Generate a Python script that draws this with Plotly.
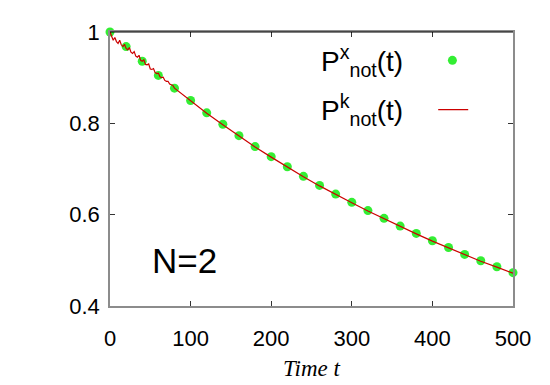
import plotly.graph_objects as go

# sampled points P^x_not(t)
t_points = [0, 20, 40, 60, 80, 100, 120, 140, 160, 180, 200, 220, 240,
            260, 280, 300, 320, 340, 360, 380, 400, 420, 440, 460, 480, 500]
p_x = [1.000, 0.968, 0.936, 0.905, 0.877, 0.850, 0.823, 0.798, 0.773,
       0.749, 0.727, 0.705, 0.684, 0.664, 0.645, 0.627, 0.609, 0.592,
       0.575, 0.559, 0.543, 0.528, 0.513, 0.499, 0.486, 0.473]

# continuous curve P^k_not(t) (wiggly at early times)
t_line = [0, 2, 4, 6, 8, 10, 12, 14, 16, 18, 20, 22, 24, 26, 28, 30, 32, 34,
          36, 38, 40, 42, 44, 46, 48, 50, 52, 54, 56, 58, 60, 62, 64, 66, 68,
          70, 72, 74, 76, 78, 80, 85, 90, 95, 100, 110, 120, 140, 160, 180,
          200, 220, 240, 260, 280, 300, 320, 340, 360, 380, 400, 420, 440,
          460, 480, 500]
p_k = [1.000, 0.990, 0.982, 0.988, 0.979, 0.975, 0.982, 0.972, 0.968, 0.973,
       0.964, 0.961, 0.966, 0.956, 0.953, 0.957, 0.947, 0.945, 0.949, 0.938,
       0.936, 0.939, 0.929, 0.928, 0.930, 0.919, 0.918, 0.920, 0.911, 0.909,
       0.910, 0.902, 0.900, 0.901, 0.894, 0.892, 0.892, 0.886, 0.884, 0.883,
       0.877, 0.870, 0.864, 0.857, 0.849, 0.836, 0.822, 0.797, 0.772, 0.748,
       0.726, 0.704, 0.683, 0.663, 0.644, 0.626, 0.608, 0.591, 0.574, 0.558,
       0.542, 0.527, 0.512, 0.498, 0.485, 0.472]

x_ticks = [0, 100, 200, 300, 400, 500]
y_ticks = [0.4, 0.6, 0.8, 1.0]
y_labels = ["0.4", "0.6", "0.8", "1"]

SANS = "Liberation Sans, Arial, sans-serif"
AXIS_GRAY = "#8c8c8c"

fig = go.Figure()

fig.add_trace(go.Scatter(
    x=t_points, y=p_x, mode="markers", name=" ",
    marker=dict(color="#33ee33", size=9),
    cliponaxis=False, legend="legend",
))
fig.add_trace(go.Scatter(
    x=t_line, y=p_k, mode="lines", name=" ",
    line=dict(color="#cc0000", width=1.2),
    legend="legend2",
))

# legend labels (text sits left of the key, gnuplot style)
for txt, ypos in [("P<sup>x</sup><sub>not</sub>(t)", 0.895),
                  ("P<sup>k</sup><sub>not</sub>(t)", 0.715)]:
    fig.add_annotation(text=txt, xref="paper", yref="paper", x=0.519, y=ypos,
                       xanchor="left", yanchor="middle", showarrow=False,
                       font=dict(family=SANS, size=28, color="black"))

fig.add_annotation(text="N=2", xref="paper", yref="paper", x=0.186, y=0.165,
                   xanchor="center", yanchor="middle", showarrow=False,
                   font=dict(family=SANS, size=35, color="black"))

# black top border
fig.add_shape(type="line", xref="paper", yref="paper", x0=0, x1=1, y0=1, y1=1,
              line=dict(color="black", width=1))

fig.update_xaxes(
    range=[0, 500], tickvals=x_ticks, ticks="inside", ticklen=5,
    tickcolor="#333", showline=True, linecolor=AXIS_GRAY, linewidth=1.5,
    mirror="ticks", showgrid=False, zeroline=False,
    tickfont=dict(family=SANS, size=22, color="black"),
    ticklabelstandoff=12,
    title=dict(text="<i>Time t</i>", standoff=10,
               font=dict(family="Liberation Serif, Times New Roman, serif",
                         size=23, color="black")),
)
fig.update_yaxes(
    range=[0.4, 1.0], tickvals=y_ticks, ticktext=y_labels, ticks="inside",
    ticklen=5, tickcolor="#333", showline=True, linecolor=AXIS_GRAY,
    linewidth=1.5, mirror="ticks", showgrid=False, zeroline=False,
    tickfont=dict(family=SANS, size=22, color="black"),
    ticklabelstandoff=4,
)

# page body adds an 8px offset, so margins are trimmed to compensate
fig.update_layout(
    width=550, height=385,
    margin=dict(l=102, r=45, t=22, b=87),
    plot_bgcolor="white", paper_bgcolor="white",
    showlegend=True,
    legend=dict(x=0.80, y=0.895, xanchor="left", yanchor="middle",
                bgcolor="rgba(0,0,0,0)", font=dict(size=14)),
    legend2=dict(x=0.802, y=0.715, xanchor="left", yanchor="middle",
                 bgcolor="rgba(0,0,0,0)", font=dict(size=14)),
)

fig.write_html("out.html")
